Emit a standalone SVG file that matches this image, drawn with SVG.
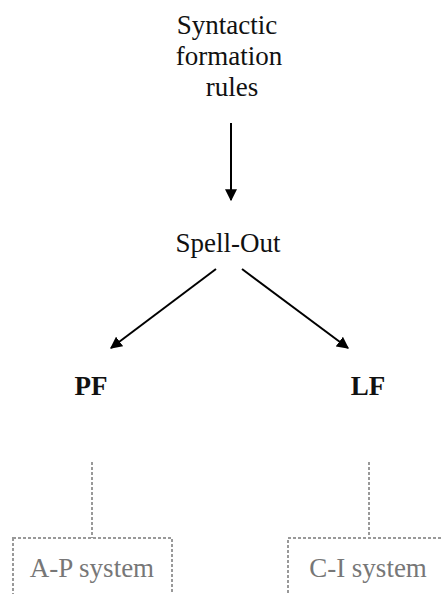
<svg xmlns="http://www.w3.org/2000/svg" width="443" height="594" viewBox="0 0 443 594">
<style>
text{font-family:"Liberation Serif","Times New Roman",serif;font-size:27px;fill:#111;text-anchor:middle}
.b{font-weight:bold}
.g{fill:#777}
.ar{stroke:#000;stroke-width:2;fill:none}
.dl{stroke:#999;stroke-width:2;fill:none;stroke-dasharray:3 2}
</style>
<defs>
<marker id="ah" viewBox="0 0 10 10" refX="9" refY="5" markerWidth="6" markerHeight="6" markerUnits="strokeWidth" orient="auto">
<path d="M0,0 L10,5 L0,10 z" fill="#000"/>
</marker>
</defs>
<rect width="443" height="594" fill="#fff"/>
<g id="syntactic">
<text x="227" y="34">Syntactic</text>
<text x="229" y="65">formation</text>
<text x="232" y="96">rules</text>
</g>
<g id="spellout"><text x="228" y="252">Spell-Out</text></g>
<g id="pf"><text class="b" x="91" y="395">PF</text></g>
<g id="lf"><text class="b" x="368" y="395">LF</text></g>
<g id="ap">
<rect class="dl" x="13" y="538" width="159" height="80"/>
<text class="g" x="92" y="577">A-P system</text>
</g>
<g id="ci">
<rect class="dl" x="288" y="538" width="180" height="80"/>
<text class="g" x="368" y="577">C-I system</text>
</g>
<g id="connectors">
<line class="ar" x1="231" y1="123" x2="231" y2="200" marker-end="url(#ah)"/>
<line class="ar" x1="216" y1="269" x2="111" y2="348" marker-end="url(#ah)"/>
<line class="ar" x1="242" y1="269" x2="348" y2="348" marker-end="url(#ah)"/>
<line class="dl" x1="92" y1="462" x2="92" y2="538"/>
<line class="dl" x1="369" y1="462" x2="369" y2="538"/>
</g>
</svg>
